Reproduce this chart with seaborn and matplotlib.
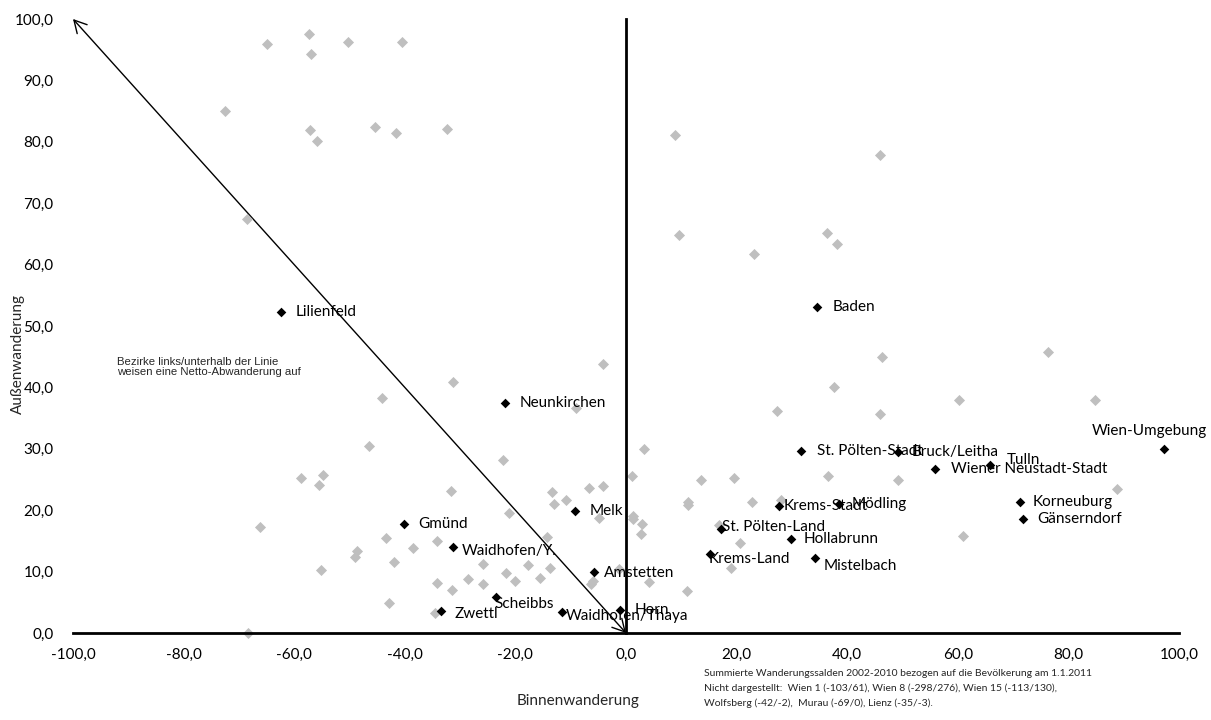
import matplotlib
matplotlib.use("Agg")
import matplotlib.pyplot as plt
from matplotlib.ticker import MultipleLocator, FuncFormatter
import seaborn as sns
import pandas as pd

# Niederösterreichische Bezirke (hervorgehoben, beschriftet)
bezirke = ["Lilienfeld", "Baden", "Neunkirchen", "Melk", "Gmünd", "Waidhofen/Y.",
           "Amstetten", "Scheibbs", "Zwettl", "Waidhofen/Thaya", "Horn",
           "St. Pölten-Stadt", "Bruck/Leitha", "Tulln", "Wiener Neustadt-Stadt",
           "Krems-Stadt", "Mödling", "St. Pölten-Land", "Hollabrunn", "Krems-Land",
           "Mistelbach", "Korneuburg", "Gänserndorf", "Wien-Umgebung"]
binnen = [-62.3, 34.6, -21.8, -9.2, -40.1, -31.2,
          -5.7, -23.5, -33.5, -11.6, -1.0,
          31.6, 49.2, 65.9, 55.9,
          27.6, 38.5, 17.1, 29.9, 15.2,
          34.2, 71.2, 71.8, 97.3]
aussen = [52.3, 53.1, 37.5, 19.9, 17.7, 14.0,
          9.9, 5.8, 3.6, 3.4, 3.7,
          29.6, 29.5, 27.4, 26.7,
          20.7, 21.0, 16.9, 15.3, 12.8,
          12.2, 21.4, 18.6, 30.0]

# Übrige österreichische Bezirke
andere_binnen = [-64.9, -57.4, -56.9, -50.3, -40.5, -72.6, -57.1, -55.9, -45.3, -41.6,
                 -32.3, -68.6, 8.9, 46.0, 9.6, 23.1, 36.4, 38.2, -4.2, 46.3,
                 37.7, 27.3, 46.0, 60.3, 76.4, 84.9, 49.1, 88.7, 60.9, 3.3,
                 1.1, 13.5, 19.5, 36.6, 11.3, 11.3, 22.8, 28.0, 1.3, 1.3,
                 2.9, 2.7, 16.8, 20.6, 19.0, 4.1, 11.1, -1.3, -31.3, -9.1,
                 -22.3, -31.6, -13.3, -6.7, -4.2, -13.0, -10.8, -21.2, -4.9, -34.2,
                 -14.2, -25.8, -17.7, -13.8, -21.7, -20.1, -28.5, -25.8, -15.6, -34.2,
                 -31.5, -6.0, -6.3, -34.6, -44.1, -46.5, -58.7, -54.8, -55.6, -66.1,
                 -43.4, -38.6, -48.6, -49.0, -42.0, -55.2, -42.9, -68.4]
andere_aussen = [95.9, 97.6, 94.3, 96.3, 96.3, 85.0, 82.0, 80.1, 82.4, 81.4,
                 82.1, 67.5, 81.1, 77.8, 64.9, 61.7, 65.2, 63.4, 43.8, 45.0,
                 40.1, 36.2, 35.7, 37.9, 45.7, 37.9, 24.9, 23.5, 15.8, 30.0,
                 25.5, 24.9, 25.2, 25.6, 21.3, 20.8, 21.4, 21.7, 19.1, 18.6,
                 17.8, 16.1, 17.6, 14.6, 10.6, 8.3, 6.8, 10.4, 40.8, 36.6,
                 28.1, 23.2, 23.0, 23.6, 24.0, 21.0, 21.7, 19.5, 18.8, 15.0,
                 15.7, 11.3, 11.0, 10.6, 9.7, 8.5, 8.8, 7.9, 9.0, 8.1,
                 7.0, 8.5, 8.0, 3.3, 38.3, 30.4, 25.2, 25.8, 24.1, 17.2,
                 15.5, 13.8, 13.3, 12.3, 11.6, 10.2, 4.9, 0.05]

# Versatz der Beschriftungen in Pixeln (dx, dy)
label_offset = {
    "Lilienfeld": (14, 0), "Baden": (15, 0), "Neunkirchen": (14, 0), "Melk": (15, 0),
    "Gmünd": (14, 0), "Waidhofen/Y.": (8, -4), "Amstetten": (9, -1),
    "Scheibbs": (-2, -7), "Zwettl": (14, -3), "Waidhofen/Thaya": (4, -4),
    "Horn": (14, 0), "St. Pölten-Stadt": (16, 0), "Bruck/Leitha": (14, 0),
    "Tulln": (16, 5), "Wiener Neustadt-Stadt": (16, 0), "Krems-Stadt": (5, 0),
    "Mödling": (13, 0), "St. Pölten-Land": (1, 2), "Hollabrunn": (12, 0),
    "Krems-Land": (-1, -5), "Mistelbach": (8, -8), "Korneuburg": (13, 0),
    "Gänserndorf": (14, 0), "Wien-Umgebung": (-72, 18),
}

sns.set_style("white")
plt.rcParams["font.family"] = ["Lato", "DejaVu Sans"]

W, H = 1211, 720
fig = plt.figure(figsize=(W / 100, H / 100), dpi=100)
ax = fig.add_axes([73 / W, 87 / H, 1106 / W, 614 / H])

df_andere = pd.DataFrame({"Binnenwanderung": andere_binnen, "Außenwanderung": andere_aussen})
df_noe = pd.DataFrame({"Bezirk": bezirke, "Binnenwanderung": binnen, "Außenwanderung": aussen})

sns.scatterplot(data=df_andere, x="Binnenwanderung", y="Außenwanderung", ax=ax,
                marker="D", color="#BFBFBF", s=32, linewidth=0, clip_on=False, zorder=3)
sns.scatterplot(data=df_noe, x="Binnenwanderung", y="Außenwanderung", ax=ax,
                marker="D", color="black", s=24, linewidth=0, clip_on=False, zorder=4)

for name, bx, ay in zip(df_noe["Bezirk"], df_noe["Binnenwanderung"], df_noe["Außenwanderung"]):
    dx, dy = label_offset[name]
    ax.annotate(name, xy=(bx, ay), xytext=(dx, dy), textcoords="offset pixels",
                ha="left", va="center", fontsize=11, color="black", zorder=5)

# Trennlinie Netto-Zuwanderung / Netto-Abwanderung
ax.annotate("", xy=(-100, 100), xytext=(0, 0),
            arrowprops=dict(arrowstyle="<->,head_length=0.55,head_width=0.3",
                            color="black", lw=1.0, shrinkA=0, shrinkB=0,
                            mutation_scale=16),
            annotation_clip=False, zorder=2)

ax.set_xlim(-100, 100)
ax.set_ylim(0, 100)
ax.xaxis.set_major_locator(MultipleLocator(20))
ax.yaxis.set_major_locator(MultipleLocator(10))
komma = FuncFormatter(lambda v, p: f"{v:.1f}".replace(".", ","))
ax.xaxis.set_major_formatter(komma)

for s in ("top", "right"):
    ax.spines[s].set_visible(False)
ax.spines["left"].set_position(("data", 0))
for s in ("left", "bottom"):
    ax.spines[s].set_linewidth(2)
    ax.spines[s].set_color("black")
    ax.spines[s].set_zorder(6)
ax.tick_params(axis="y", direction="out", length=5, width=1.3, color="black", labelleft=False)
ax.tick_params(axis="x", direction="out", length=5, width=1.3, color="black",
               labelsize=11, pad=6, labelcolor="black")
ax.set_xlabel("")
ax.set_ylabel("")
ax.grid(False)

# Beschriftung der y-Achse am linken Rand
sek = ax.secondary_yaxis("left")
sek.spines["left"].set_visible(False)
sek.yaxis.set_major_locator(MultipleLocator(10))
sek.yaxis.set_major_formatter(komma)
sek.tick_params(length=0, pad=14, labelsize=11, labelcolor="black")

fig.text(18 / W, 1 - 354 / H, "Außenwanderung", rotation=90, ha="center", va="center",
         fontsize=11)
fig.text(578 / W, 1 - 701 / H, "Binnenwanderung", ha="center", va="center", fontsize=11)

fig.text(117 / W, 1 - 367 / H,
         "Bezirke links/unterhalb der Linie\nweisen eine Netto-Abwanderung auf",
         ha="left", va="center", fontsize=8.2,
         family=["Liberation Sans Narrow", "Liberation Sans"], linespacing=1.1)

fig.text(704 / W, 1 - 669 / H,
         "Summierte Wanderungssalden 2002-2010 bezogen auf die Bevölkerung am 1.1.2011\n"
         "Nicht dargestellt:  Wien 1 (-103/61), Wien 8 (-298/276), Wien 15 (-113/130),\n"
         "Wolfsberg (-42/-2),  Murau (-69/0), Lienz (-35/-3).",
         ha="left", va="top", fontsize=7.5, linespacing=1.7)

fig.savefig("out.png", dpi=100, facecolor="white")
